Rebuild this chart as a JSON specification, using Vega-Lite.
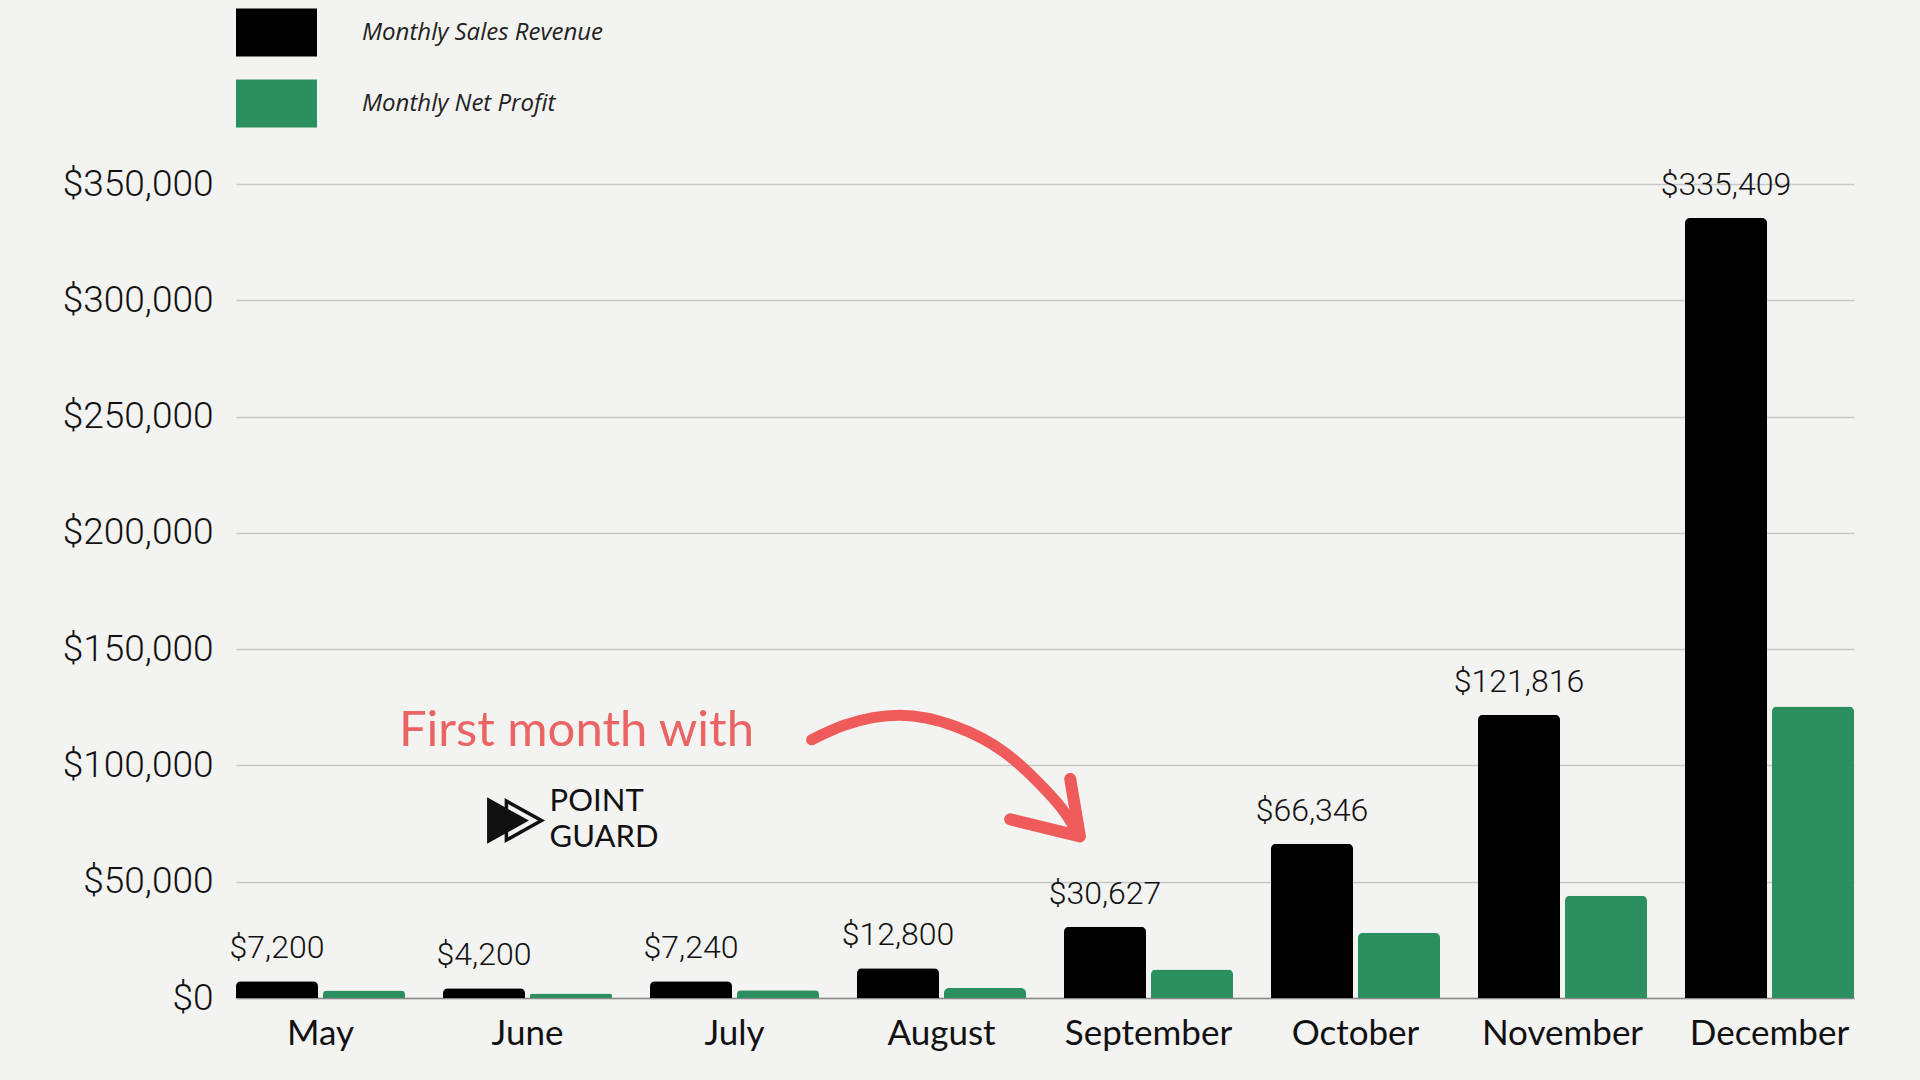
{
  "$schema": "https://vega.github.io/schema/vega-lite/v6.json",
  "width": 1618,
  "height": 814,
  "autosize": {"type": "none"},
  "padding": {"left": 236, "top": 184, "right": 66, "bottom": 82},
  "background": "#f3f3f1",
  "config": {"view": {"stroke": null}, "font": "Lato"},
  "datasets": {
    "sales": [
      {"month": "May", "series": "Monthly Sales Revenue", "value": 7200},
      {"month": "May", "series": "Monthly Net Profit", "value": 3200},
      {"month": "June", "series": "Monthly Sales Revenue", "value": 4200},
      {"month": "June", "series": "Monthly Net Profit", "value": 1900},
      {"month": "July", "series": "Monthly Sales Revenue", "value": 7240},
      {"month": "July", "series": "Monthly Net Profit", "value": 3300},
      {"month": "August", "series": "Monthly Sales Revenue", "value": 12800},
      {"month": "August", "series": "Monthly Net Profit", "value": 4300},
      {"month": "September", "series": "Monthly Sales Revenue", "value": 30627},
      {"month": "September", "series": "Monthly Net Profit", "value": 12300},
      {"month": "October", "series": "Monthly Sales Revenue", "value": 66346},
      {"month": "October", "series": "Monthly Net Profit", "value": 28100},
      {"month": "November", "series": "Monthly Sales Revenue", "value": 121816},
      {"month": "November", "series": "Monthly Net Profit", "value": 44000},
      {"month": "December", "series": "Monthly Sales Revenue", "value": 335409},
      {"month": "December", "series": "Monthly Net Profit", "value": 125300}
    ],
    "note": [{"idx": 0.787, "value": 114700, "label": "First month with"}],
    "logo_text": [
      {"idx": 1.515, "value": 84400, "label": "POINT"},
      {"idx": 1.515, "value": 68800, "label": "GUARD"}
    ],
    "logo_filled": [{"idx": 1.314, "value": 76300}],
    "logo_outline": [{"idx": 1.391, "value": 76300}],
    "arrow_body": [
      {"idx": 2.781, "value": 111050},
      {"idx": 2.941, "value": 117360},
      {"idx": 3.207, "value": 121570},
      {"idx": 3.473, "value": 116840},
      {"idx": 3.710, "value": 105790},
      {"idx": 3.888, "value": 91580},
      {"idx": 4.006, "value": 79470},
      {"idx": 4.065, "value": 71050}
    ],
    "arrow_head": [
      {"idx": 3.740, "value": 76840},
      {"idx": 4.077, "value": 69470},
      {"idx": 4.030, "value": 94210}
    ]
  },
  "layer": [
    {
      "data": {"name": "sales"},
      "mark": {"type": "bar", "cornerRadiusTopLeft": 5, "cornerRadiusTopRight": 5},
      "encoding": {
        "x": {
          "field": "month", "type": "nominal",
          "sort": ["May", "June", "July", "August", "September", "October", "November", "December"],
          "scale": {"paddingInner": 0.1836, "paddingOuter": 0},
          "axis": {
            "title": null, "labelAngle": 0, "ticks": false, "labelPadding": 18,
            "labelFont": "Lato", "labelFontSize": 35, "labelColor": "#111111",
            "domain": true, "domainColor": "#8a8a8a", "domainWidth": 1.5
          }
        },
        "xOffset": {
          "field": "series", "type": "nominal",
          "sort": ["Monthly Sales Revenue", "Monthly Net Profit"],
          "scale": {"paddingInner": 0.0575, "paddingOuter": 0}
        },
        "y": {
          "field": "value", "type": "quantitative",
          "scale": {"domain": [0, 350000], "nice": false},
          "axis": {
            "title": null, "values": [0, 50000, 100000, 150000, 200000, 250000, 300000, 350000],
            "format": "$,d", "ticks": false, "domain": false, "labelPadding": 23,
            "labelFont": "Roboto", "labelFontWeight": 300, "labelFontSize": 37, "labelColor": "#111111",
            "gridColor": "#c8c8c8", "gridWidth": 1.5
          }
        },
        "color": {
          "field": "series", "type": "nominal",
          "scale": {"domain": ["Monthly Sales Revenue", "Monthly Net Profit"], "range": ["#000000", "#2b8f5f"]},
          "legend": {
            "title": null, "orient": "none", "legendX": 20, "legendY": -172, "padding": 0,
            "direction": "vertical",
            "symbolType": "M-2,-1.18L2,-1.18L2,1.18L-2,1.18Z", "symbolSize": 1640,
            "symbolStrokeWidth": 0, "symbolOpacity": 1,
            "labelFont": "Open Sans", "labelFontStyle": "italic", "labelFontSize": 24,
            "labelColor": "#222222", "labelOffset": 65, "rowPadding": 22, "labelLimit": 500
          }
        }
      }
    },
    {
      "data": {"name": "sales"},
      "transform": [{"filter": "datum.series === 'Monthly Sales Revenue'"}],
      "mark": {"type": "text", "dx": 41, "dy": -33, "align": "center", "baseline": "middle", "font": "Roboto", "fontWeight": 300, "fontSize": 32, "color": "#111111"},
      "encoding": {
        "x": {
          "field": "month", "type": "nominal",
          "sort": ["May", "June", "July", "August", "September", "October", "November", "December"],
          "scale": {"paddingInner": 0.1836, "paddingOuter": 0},
          "axis": null
        },
        "xOffset": {
          "field": "series", "type": "nominal",
          "sort": ["Monthly Sales Revenue", "Monthly Net Profit"],
          "scale": {"domain": ["Monthly Sales Revenue", "Monthly Net Profit"], "paddingInner": 0.0575, "paddingOuter": 0}
        },
        "y": {"field": "value", "type": "quantitative", "scale": {"domain": [0, 350000], "nice": false}},
        "text": {"field": "value", "type": "quantitative", "format": "$,d"}
      }
    },
    {
      "data": {"name": "note"},
      "mark": {"type": "text", "align": "left", "baseline": "middle", "font": "Lato", "fontSize": 49, "color": "#ea6464"},
      "encoding": {
        "x": {"field": "idx", "type": "quantitative", "scale": {"domain": [0, 7.8164], "nice": false, "zero": false}, "axis": null},
        "y": {"field": "value", "type": "quantitative", "scale": {"domain": [0, 350000], "nice": false}},
        "text": {"field": "label"}
      }
    },
    {
      "data": {"name": "logo_text"},
      "mark": {"type": "text", "align": "left", "baseline": "middle", "font": "Lato", "fontSize": 31, "color": "#111111"},
      "encoding": {
        "x": {"field": "idx", "type": "quantitative", "scale": {"domain": [0, 7.8164], "nice": false, "zero": false}, "axis": null},
        "y": {"field": "value", "type": "quantitative", "scale": {"domain": [0, 350000], "nice": false}},
        "text": {"field": "label"}
      }
    },
    {
      "data": {"name": "logo_filled"},
      "mark": {"type": "point", "shape": "M-0.9,-1L0.9,0L-0.9,1Z", "size": 2162, "filled": true, "color": "#111111", "opacity": 1},
      "encoding": {
        "x": {"field": "idx", "type": "quantitative", "scale": {"domain": [0, 7.8164], "nice": false, "zero": false}, "axis": null},
        "y": {"field": "value", "type": "quantitative", "scale": {"domain": [0, 350000], "nice": false}}
      }
    },
    {
      "data": {"name": "logo_outline"},
      "mark": {"type": "point", "shape": "M-0.9,-1L0.9,0L-0.9,1Z", "size": 1521, "filled": false, "stroke": "#111111", "strokeWidth": 3.5, "opacity": 1},
      "encoding": {
        "x": {"field": "idx", "type": "quantitative", "scale": {"domain": [0, 7.8164], "nice": false, "zero": false}, "axis": null},
        "y": {"field": "value", "type": "quantitative", "scale": {"domain": [0, 350000], "nice": false}}
      }
    },
    {
      "data": {"name": "arrow_body"},
      "mark": {"type": "line", "interpolate": "monotone", "color": "#ef5b5b", "strokeWidth": 11, "strokeCap": "round"},
      "encoding": {
        "x": {"field": "idx", "type": "quantitative", "scale": {"domain": [0, 7.8164], "nice": false, "zero": false}, "axis": null},
        "y": {"field": "value", "type": "quantitative", "scale": {"domain": [0, 350000], "nice": false}}
      }
    },
    {
      "data": {"name": "arrow_head"},
      "mark": {"type": "line", "color": "#ef5b5b", "strokeWidth": 12, "strokeCap": "round", "strokeJoin": "round"},
      "encoding": {
        "x": {"field": "idx", "type": "quantitative", "scale": {"domain": [0, 7.8164], "nice": false, "zero": false}, "axis": null},
        "y": {"field": "value", "type": "quantitative", "scale": {"domain": [0, 350000], "nice": false}},
        "order": {"value": null}
      }
    }
  ],
  "resolve": {"scale": {"x": "independent", "xOffset": "independent"}, "axis": {"x": "independent"}}
}
